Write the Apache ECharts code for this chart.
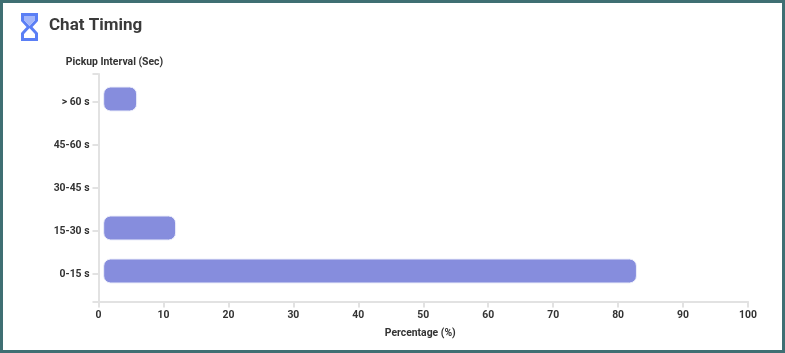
<!DOCTYPE html>
<html><head><meta charset="utf-8">
<script src="https://cdn.jsdelivr.net/npm/echarts@6/dist/echarts.min.js"></script>
<style>html,body{margin:0;padding:0;background:#fff}#c{width:785px;height:353px}</style>
</head><body><div id="c"></div>
<script>
const categories = ['0-15 s','15-30 s','30-45 s','45-60 s','> 60 s'];
const percentages = [82.9, 11.95, null, null, 5.95];
const barStart = 0.72;
const xTicks = {min:0,max:100,interval:10};
const chart = echarts.init(document.getElementById('c'),null,{renderer:'canvas'});
const axisGrey = '#e2e2e2', textCol = '#333';
const labelFont = {fontFamily:'Roboto, Arial, sans-serif',fontSize:10.4,fontWeight:'bold',color:textCol};
chart.setOption({
  animation:false,
  title:{text:'Chat Timing',left:44,top:12,textStyle:{fontFamily:'Roboto, Arial, sans-serif',fontSize:17,fontWeight:'bold',color:'#3a3a3a'}},
  grid:[
    {left:98.5,right:37,top:80.5,height:215,containLabel:false},
    {left:98.5,right:37,top:74,height:227.5,containLabel:false}
  ],
  xAxis:[
    {type:'value',gridIndex:0,min:xTicks.min,max:xTicks.max,interval:xTicks.interval,offset:6,
     name:'Percentage (%)',nameLocation:'middle',nameGap:27,nameTextStyle:{...labelFont,padding:[0,6,0,0]},
     axisLine:{show:true,lineStyle:{color:axisGrey,width:2}},axisTick:{show:true,length:6,lineStyle:{color:axisGrey,width:2}},
     axisLabel:{...labelFont,margin:9},splitLine:{show:false}},
    {type:'value',gridIndex:1,min:0,max:1,show:false}
  ],
  yAxis:[
    {type:'category',gridIndex:0,data:categories,
     axisLine:{show:false},axisTick:{show:true,alignWithLabel:true,length:6,lineStyle:{color:axisGrey,width:2}},
     axisLabel:{...labelFont,margin:9}},
    {type:'value',gridIndex:1,min:0,max:1,interval:1,
     name:'Pickup Interval (Sec)',nameLocation:'end',nameGap:7,nameTextStyle:{...labelFont,align:'center',padding:[0,0,0,32]},
     axisLine:{show:true,lineStyle:{color:axisGrey,width:2}},axisTick:{show:true,length:6,lineStyle:{color:axisGrey,width:2}},
     axisLabel:{show:false},splitLine:{show:false}}
  ],
  series:[
    {type:'bar',stack:'s',xAxisIndex:0,yAxisIndex:0,barWidth:25,barGap:0,silent:true,
     data:percentages.map(v=>v==null?null:barStart),itemStyle:{color:'transparent'}},
    {type:'bar',stack:'s',xAxisIndex:0,yAxisIndex:0,barWidth:25,barGap:0,
     data:percentages.map(v=>v==null?null:v-barStart),
     itemStyle:{color:'#868ddd',borderColor:'#eceefa',borderWidth:1,borderRadius:7}},
    {type:'bar',stack:'pad',xAxisIndex:0,yAxisIndex:0,barWidth:6,barGap:0,silent:true,data:[]}
  ],
  graphic:[
    {type:'polygon',shape:{points:[[22.5,14.5],[36.5,14.5],[36.5,20.5],[30.5,27],[36.5,33.5],[36.5,39.5],[22.5,39.5],[22.5,33.5],[28.5,27],[22.5,20.5]]},
     style:{fill:'#fff',stroke:'#5b7ff5',lineWidth:3,lineJoin:'miter'}},
    {type:'polygon',shape:{points:[[24,16],[35,16],[35,20],[29.5,26],[24,20]]},style:{fill:'#a3b6fa'}}
  ]
});
</script>
<div style="position:fixed;inset:0;border:3px solid #3f6f73;box-sizing:border-box;pointer-events:none"></div>
</body></html>
